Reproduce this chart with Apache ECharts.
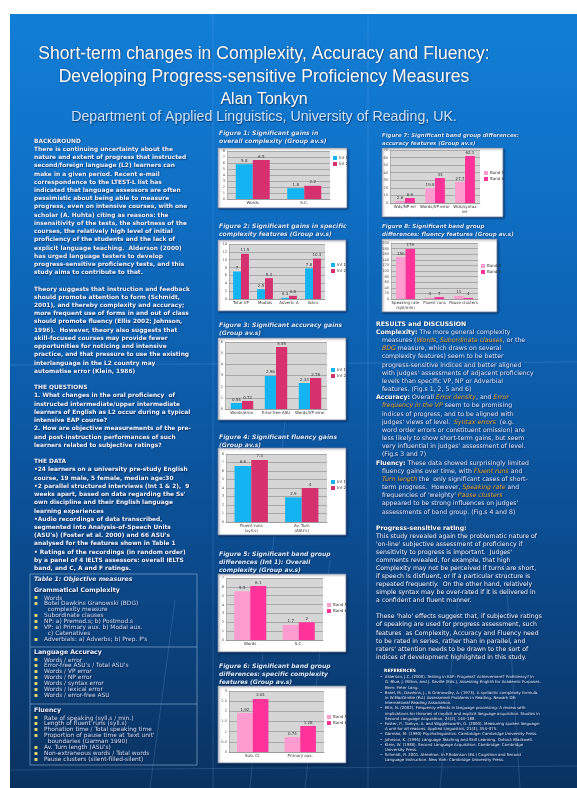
<!DOCTYPE html>
<html><head><meta charset="utf-8">
<script src="https://cdn.jsdelivr.net/npm/echarts@6/dist/echarts.min.js"></script>
<style>html,body{margin:0;padding:0;background:#fff;}#c{width:577px;height:788px;}</style>
</head><body><div id="c"></div>
<script>
// ---------- DATA ----------
const intNames = ['Int 1', 'Int 2'];
const bandNames = ['Band 5', 'Band 6'];

const fig1Categories = ['Words', 'S.C.'];
const fig1Int1 = [5.8, 1.8];
const fig1Int2 = [6.5, 2.2];
const fig1Ticks = [0, 8, 1];

const fig2Categories = ['Total VP', 'Modals', 'Adverb. A', 'Adv.s'];
const fig2Int1 = [7.0, 2.5, 0.3, 7.8];
const fig2Int2 = [11.5, 5.3, 0.8, 10.3];
const fig2Ticks = [0, 14, 2];

const fig3Categories = ['Words/error', 'Error-free ASU', 'Words/VP error'];
const fig3Int1 = [0.54, 2.96, 2.33];
const fig3Int2 = [0.72, 5.55, 2.78];
const fig3Ticks = [0, 6, 1];

const fig4Categories = ['Fluent runs\n(syll.s)', "Av. Turn\n(ASU's)"];
const fig4Int1 = [6.6, 2.9];
const fig4Int2 = [7.3, 4.0];
const fig4Ticks = [0, 8, 1];

const fig5Categories = ['Words', 'S.C.'];
const fig5Band5 = [5.5, 1.7];
const fig5Band6 = [6.1, 2.0];
const fig5Ticks = [0, 7, 1];

const fig6Categories = ['Sub. Cl.', 'Primary aux.'];
const fig6Band5 = [1.92, 0.74];
const fig6Band6 = [2.61, 1.28];
const fig6Ticks = [0, 3, 0.5];

const fig7Categories = ['Wds/NP err', 'Words/VP error', 'Wds/syntax\nerr'];
const fig7Band5 = [2.6, 19.8, 27.7];
const fig7Band6 = [6.6, 33.0, 62.1];
const fig7Ticks = [0, 70, 10];

const fig8Categories = ['Speaking rate\n(syll/min)', 'Fluent runs', 'Pause clusters'];
const fig8Band5 = [150, 4, 11];
const fig8Band6 = [179, 7, 4];
const fig8Ticks = [0, 200, 20];

const figTitles = [
  'Figure 1: Significant gains in\noverall complexity (Group av.s)',
  'Figure 2: Significant gains in specific\ncomplexity features (Group av.s)',
  'Figure 3: Significant accuracy gains\n(Group av.s)',
  'Figure 4: Significant fluency gains\n(Group av.s)',
  'Figure 5: Significant band group\ndifferences (Int 1): Overall\ncomplexity (Group av.s)',
  'Figure 6: Significant band group\ndifferences: specific complexity\nfeatures (Group av.s)',
  'Figure 7: Significant band group differences:\naccuracy features (Group av.s)',
  'Figure 8: Significant band group\ndifferences: fluency features (Group av.s)'
];

// ---------- TEXT ----------
const titleLines = ['Short-term changes in Complexity, Accuracy and Fluency:', 'Developing Progress-sensitive Proficiency Measures'];
const authorLine = 'Alan Tonkyn';
const deptLine = 'Department of Applied Linguistics, University of Reading, UK.';

const leftText = [
'BACKGROUND',
'There is continuing uncertainty about the',
'nature and extent of progress that instructed',
'second/foreign language (L2) learners can',
'make in a given period. Recent e-mail',
'correspondence to the LTEST-L list has',
'indicated that language assessors are often',
'pessimistic about being able to measure',
'progress, even on intensive courses, with one',
'scholar (A. Huhta) citing as reasons: the',
'insensitivity of the tests, the shortness of the',
'courses, the relatively high level of initial',
'proficiency of the students and the lack of',
'explicit language teaching.  Alderson (2000)',
'has urged language testers to develop',
'progress-sensitive proficiency tests, and this',
'study aims to contribute to that.',
'',
'Theory suggests that instruction and feedback',
'should promote attention to form (Schmidt,',
'2001), and thereby complexity and accuracy;',
'more frequent use of forms in and out of class',
'should promote fluency (Ellis 2002; Johnson,',
'1996).  However, theory also suggests that',
'skill-focused courses may provide fewer',
'opportunities for noticing and intensive',
'practice, and that pressure to use the existing',
'interlanguage in the L2 country may',
'automatise error (Klein, 1986)',
'',
'THE QUESTIONS',
'1. What changes in the oral proficiency  of',
'instructed intermediate/upper intermediate',
'learners of English as L2 occur during a typical',
'intensive EAP course?',
'2. How are objective measurements of the pre-',
'and post-instruction performances of such',
'learners related to subjective ratings?',
'',
'THE DATA',
'\u202224 learners on a university pre-study English',
'course, 19 male, 5 female, median age:30',
'\u20222 parallel structured interviews (Int 1 & 2),  9',
"weeks apart, based on data regarding the Ss'",
'own discipline and their English language',
'learning experiences',
'\u2022Audio recordings of data transcribed,',
'segmented into Analysis-of-Speech Units',
"(ASU's) (Foster et al. 2000) and 66 ASU's",
'analysed for the features shown in Table 1',
'\u2022 Ratings of the recordings (in random order)',
'by a panel of 4 IELTS assessors: overall IELTS',
'band, and C, A and F ratings.'
];

const tableSections = [
  {head: 'Grammatical Complexity', y: 591, items: ['Words', 'Botel Dawkins Granowski (BDG)', '  complexity measure', 'Subordinate clauses', 'NP: a) Premod.s; b) Postmod.s', 'VP: a) Primary aux. b) Modal aux.', '  c) Catenatives', "Adverbials: a) Adverbs; b) Prep. P's"]},
  {head: 'Language Accuracy', y: 653, items: ['Words / error', "Error-free ASU's / Total ASU's", 'Words / VP error', 'Words / NP error', 'Words / syntax error', 'Words / lexical error', 'Words / error-free ASU']},
  {head: 'Fluency', y: 711, items: ['Rate of speaking (syll.s / min.)', 'Length of fluent runs (syll.s)', 'Phonation time / Total speaking time', "Proportion of pause time at 'text unit'", '  boundaries (Garman 1990)', "Av. Turn length (ASU's)", 'Non-extraneous words / Total words', 'Pause clusters (silent-filled-silent)']}
];

const resultsText = [
'{h|RESULTS and DISCUSSION}',
'{b|Complexity:} The more general complexity',
'   measures ({o|Words}, {o|Subordinate clauses}, or the',
'   {o|BDG} measure, which draws on several',
'   complexity features) seem to be better',
'   progress-sensitive indices and better aligned',
"   with judges' assessments of adjacent proficiency",
'   levels than specific VP, NP or Adverbial',
'   features. (Fig.s 1, 2, 5 and 6)',
'{b|Accuracy:} Overall {o|Error density}, and {o|Error}',
'   {o|frequency in the VP} seem to be promising',
'   indices of progress, and to be aligned with',
"   judges' views of level.  {o|Syntax errors}  (e.g.",
'   word order errors or constituent omission) are',
'   less likely to show short-term gains, but seem',
"   very influential in judges' assessment of level.",
'   (Fig.s 3 and 7)',
'{b|Fluency:} These data showed surprisingly limited',
'   fluency gains over time, with {o|Fluent runs} and',
'   {o|Turn length} the  only significant cases of short-',
'   term progress.  However, {o|Speaking rate} and',
"   frequencies of 'weighty' {o|Pause clusters}",
"   appeared to be strong influences on judges'",
'   assessments of band group. (Fig.s 4 and 8)'
];

const progressText = [
'{h|Progress-sensitive rating:}',
'This study revealed again the problematic nature of',
"'on-line' subjective assessment of proficiency if",
"sensitivity to progress is important.  Judges'",
'comments revealed, for example, that high',
'Complexity may not be perceived if turns are short,',
'if speech is disfluent, or if a particular structure is',
'repeated frequently.  On the other hand, relatively',
'simple syntax may be over-rated if it is delivered in',
'a confident and fluent manner.',
'',
"These 'halo' effects suggest that, if subjective ratings",
'of speaking are used for progress assessment, such',
'features  as Complexity, Accuracy and Fluency need',
'to be rated in series, rather than in parallel, and',
"raters' attention needs to be drawn to the sort of",
'indices of development highlighted in this study.'
];

const referenceLines = [
'\u2022  Alderson, J.C. (2000). Testing in EAP: Progress? Achievement? Proficiency? In',
'    G. Blue, J. Milton, and J. Saville (Eds.), Assessing English for Academic Purposes.',
'    Bern: Peter Lang.',
'\u2022  Botel, M., Dawkins, J., & Granowsky, A. (1973). A syntactic complexity formula.',
'    In W.MacGinitie (Ed.) Assessment Problems in Reading. Newark DE:',
'    International Reading Association.',
'\u2022  Ellis, N. (2002). Frequency effects in language processing: A review with',
'    implications for theories of implicit and explicit language acquisition. Studies in',
'    Second Language Acquisition, 24(2), 143\u2013188.',
'\u2022  Foster, P., Tonkyn, A. and Wigglesworth, G. (2000). Measuring spoken language:',
'    A unit for all reasons. Applied Linguistics, 21(3), 354\u2013375.',
'\u2022  Garman, M. (1990) Psycholinguistics. Cambridge: Cambridge University Press.',
'\u2022  Johnson, K. (1996) Language Teaching and Skill Learning. Oxford: Blackwell.',
'\u2022  Klein, W. (1986). Second Language Acquisition. Cambridge: Cambridge',
'    University Press.',
'\u2022  Schmidt, R. 2001. Attention. In P.Robinson (Ed.) Cognition and Second',
'    Language Instruction. New York: Cambridge University Press.'
];

// ---------- LAYOUT ----------
const INT_COLORS = ['#14b4f2', '#d6306f'];
const BAND_COLORS = ['#ff9ccf', '#ff3399'];
const figData = [
  {cats: fig1Categories, a: fig1Int1, b: fig1Int2, names: intNames, colors: INT_COLORS, ticks: fig1Ticks},
  {cats: fig2Categories, a: fig2Int1, b: fig2Int2, names: intNames, colors: INT_COLORS, ticks: fig2Ticks},
  {cats: fig3Categories, a: fig3Int1, b: fig3Int2, names: intNames, colors: INT_COLORS, ticks: fig3Ticks},
  {cats: fig4Categories, a: fig4Int1, b: fig4Int2, names: intNames, colors: INT_COLORS, ticks: fig4Ticks},
  {cats: fig5Categories, a: fig5Band5, b: fig5Band6, names: bandNames, colors: BAND_COLORS, ticks: fig5Ticks},
  {cats: fig6Categories, a: fig6Band5, b: fig6Band6, names: bandNames, colors: BAND_COLORS, ticks: fig6Ticks},
  {cats: fig7Categories, a: fig7Band5, b: fig7Band6, names: bandNames, colors: BAND_COLORS, ticks: fig7Ticks},
  {cats: fig8Categories, a: fig8Band5, b: fig8Band6, names: bandNames, colors: BAND_COLORS, ticks: fig8Ticks}
];
const figLayout = [
  {box: [218, 148, 129, 60], grid: [227, 151, 103, 48], legend: [333, 156], title: [219, 129], tf: 6.1},
  {box: [218, 240, 128, 71], grid: [229, 244, 96, 55], legend: [331, 263], title: [219, 222], tf: 6.1},
  {box: [218, 338, 128, 82], grid: [225, 342, 102, 67], legend: [331, 368], title: [219, 321], tf: 6.1},
  {box: [218, 448, 128, 87], grid: [226, 454, 101, 68], legend: [331, 480], title: [219, 433], tf: 6.1},
  {box: [218, 574, 128, 78], grid: [226, 578, 97, 62], legend: [327, 603], title: [219, 550], tf: 6.1},
  {box: [218, 686, 128, 77], grid: [229, 691, 95, 61], legend: [327, 715], title: [219, 662], tf: 6.1},
  {box: [382, 148, 121, 69], grid: [390, 150, 90, 53], legend: [484, 171], title: [382, 131], tf: 5.4},
  {box: [382, 239, 115, 73], grid: [391, 243, 87, 56], legend: [481, 264], title: [382, 222], tf: 5.6}
];

const grids = [], xAxes = [], yAxes = [], series = [], legends = [];
figData.forEach((f, i) => {
  const L = figLayout[i];
  grids.push({left: L.grid[0], top: L.grid[1], width: L.grid[2], height: L.grid[3],
    show: true, backgroundColor: '#d6d6d6', borderWidth: 0});
  xAxes.push({type: 'category', gridIndex: i, data: f.cats,
    axisLine: {lineStyle: {color: '#888', width: 0.6}}, axisTick: {show: false},
    axisLabel: {fontSize: 4, lineHeight: 4.5, color: '#333', margin: 2, interval: 0, fontFamily: 'DejaVu Sans'}});
  yAxes.push({type: 'value', gridIndex: i, min: f.ticks[0], max: f.ticks[1], interval: f.ticks[2],
    axisLine: {show: true, lineStyle: {color: '#999', width: 0.6}}, axisTick: {show: false},
    splitLine: {lineStyle: {color: '#8a8a8a', width: 0.6}},
    axisLabel: {fontSize: 3.6, color: '#555', margin: 2, fontFamily: 'DejaVu Sans'}});
  [f.a, f.b].forEach((vals, k) => {
    series.push({type: 'bar', name: f.names[k], xAxisIndex: i, yAxisIndex: i, data: vals,
      barGap: '0%', barCategoryGap: '34%',
      itemStyle: {color: f.colors[k]},
      label: {show: true, position: 'top', distance: 1.5, fontSize: 4, color: '#333', fontFamily: 'DejaVu Sans'}});
  });
  legends.push({data: f.names, orient: 'vertical', left: L.legend[0], top: L.legend[1],
    itemWidth: 4, itemHeight: 4, itemGap: 2, icon: 'rect', padding: 0, selectedMode: false,
    textStyle: {fontSize: 4, color: '#333', padding: [0, 0, 0, -3], fontFamily: 'DejaVu Sans'}});
});

// ---------- GRAPHICS ----------
const shadow = {textShadowColor: 'rgba(0,0,20,0.6)', textShadowBlur: 1.5, textShadowOffsetX: 0.6, textShadowOffsetY: 0.6};
const g = [];
g.push({type: 'rect', z: -20, shape: {x: 0, y: 0, width: 577, height: 788}, style: {fill: '#ffffff'}});
g.push({type: 'rect', z: -19, shape: {x: 10, y: 14, width: 567, height: 774}, style: {fill: {
  type: 'linear', x: 0, y: 0, x2: 0, y2: 1, colorStops: [
    {offset: 0, color: '#127ed6'}, {offset: 0.2, color: '#0f72c8'}, {offset: 0.45, color: '#0c5fae'},
    {offset: 0.7, color: '#0b4b8e'}, {offset: 1, color: '#0a3260'}]}}});
// faint decorative lines
[[10, 365, 577, 362], [10, 770, 577, 766], [213, 14, 213, 788], [368, 14, 368, 788],
 [250, 788, 285, 420], [305, 788, 330, 560], [440, 788, 470, 470], [520, 788, 505, 560], [150, 788, 175, 600]]
 .forEach(l => g.push({type: 'line', z: -18, shape: {x1: l[0], y1: l[1], x2: l[2], y2: l[3]},
   style: {stroke: 'rgba(150,200,255,0.18)', lineWidth: 1}}));

// title
g.push({type: 'text', z: 10, style: Object.assign({text: titleLines.join('\n'), x: 264, y: 42.5, textAlign: 'center',
  fill: '#ffffff', font: '17.6px "Liberation Sans"', lineHeight: 23}, shadow)});
g.push({type: 'text', z: 10, style: Object.assign({text: authorLine, x: 264, y: 91.5, textAlign: 'center',
  fill: '#ffffff', font: '16px "Liberation Sans"'}, shadow)});
g.push({type: 'text', z: 10, style: Object.assign({text: deptLine, x: 264, y: 110.5, textAlign: 'center',
  fill: '#c8e4ff', font: '14.2px "Liberation Sans"'}, shadow)});

// left column
g.push({type: 'text', z: 10, style: Object.assign({text: leftText.join('\n'), x: 34, y: 137, lineHeight: 8.22,
  fill: '#f2f4ff', font: 'bold 5.9px "DejaVu Sans"'}, shadow)});

// table
g.push({type: 'rect', z: -5, shape: {x: 30, y: 574, width: 167, height: 191},
  style: {fill: 'rgba(0,0,0,0)', stroke: 'rgba(160,190,225,0.7)', lineWidth: 0.8}});
[647, 704].forEach(y => g.push({type: 'line', z: -5, shape: {x1: 30, y1: y, x2: 197, y2: y},
  style: {stroke: 'rgba(160,190,225,0.7)', lineWidth: 0.8}}));
g.push({type: 'text', z: 10, style: Object.assign({text: 'Table 1: Objective measures', x: 34, y: 576.5,
  fill: '#e6ecff', font: 'italic bold 6.2px "DejaVu Sans"'}, shadow)});
tableSections.forEach(s => {
  g.push({type: 'text', z: 10, style: Object.assign({text: s.head, x: 34, y: s.y - 3.5,
    fill: '#f0f0ff', font: 'bold 6.2px "DejaVu Sans"'}, shadow)});
  g.push({type: 'text', z: 10, style: Object.assign({text: s.items.join('\n'), x: 44, y: s.y + 4, lineHeight: 5.95,
    fill: '#d6dcf2', font: '5.9px "DejaVu Sans"'}, shadow)});
  g.push({type: 'text', z: 10, style: {text: s.items.map(t => t.startsWith('  ') ? '' : '\u25aa').join('\n'),
    x: 34, y: s.y + 4, lineHeight: 5.95, fill: '#e8d870', font: '5.8px "DejaVu Sans"'}});
});

// figure titles and boxes
figLayout.forEach((L, i) => {
  g.push({type: 'rect', z: -5, shape: {x: L.box[0], y: L.box[1], width: L.box[2], height: L.box[3]},
    style: {fill: '#ffffff', stroke: '#6f86a8', lineWidth: 0.8, shadowColor: 'rgba(0,0,30,0.5)', shadowBlur: 2, shadowOffsetX: 1, shadowOffsetY: 1}});
  g.push({type: 'text', z: 10, style: Object.assign({text: figTitles[i], x: L.title[0], y: L.title[1], lineHeight: 8.2,
    fill: '#d8eaff', font: 'italic bold ' + L.tf + 'px "DejaVu Sans"'}, shadow)});
});

// results
const rich = {
  h: {fill: '#ffffff', font: 'bold 6.2px "DejaVu Sans"'},
  b: {fill: '#ffffff', font: 'bold 6.2px "DejaVu Sans"'},
  o: {fill: '#f0a83a', font: 'italic 6.2px "DejaVu Sans"'}
};
g.push({type: 'text', z: 10, style: Object.assign({text: resultsText.join('\n'), x: 376, y: 320, lineHeight: 8.17,
  fill: '#e4e4fa', font: '6.2px "DejaVu Sans"', rich: rich}, shadow)});
g.push({type: 'text', z: 10, style: Object.assign({text: progressText.join('\n'), x: 376, y: 524, lineHeight: 8.07,
  fill: '#f4f4ff', font: '6.2px "DejaVu Sans"', rich: {h: {fill: '#ffffff', font: 'bold 6.2px "DejaVu Sans"'}}}, shadow)});
g.push({type: 'text', z: 10, style: Object.assign({text: 'REFERENCES', x: 384, y: 668.5,
  fill: '#ffffff', font: 'bold 4.4px "DejaVu Sans"'}, shadow)});
g.push({type: 'text', z: 10, style: Object.assign({text: referenceLines.join('\n'), x: 380, y: 674.5, lineHeight: 5.2,
  fill: '#e4e6f6', font: '3.9px "DejaVu Sans"'}, shadow)});

const chart = echarts.init(document.getElementById('c'), null, {renderer: 'canvas'});
chart.setOption({
  animation: false,
  graphic: {elements: g},
  grid: grids, xAxis: xAxes, yAxis: yAxes, series: series, legend: legends
});
</script></body></html>
